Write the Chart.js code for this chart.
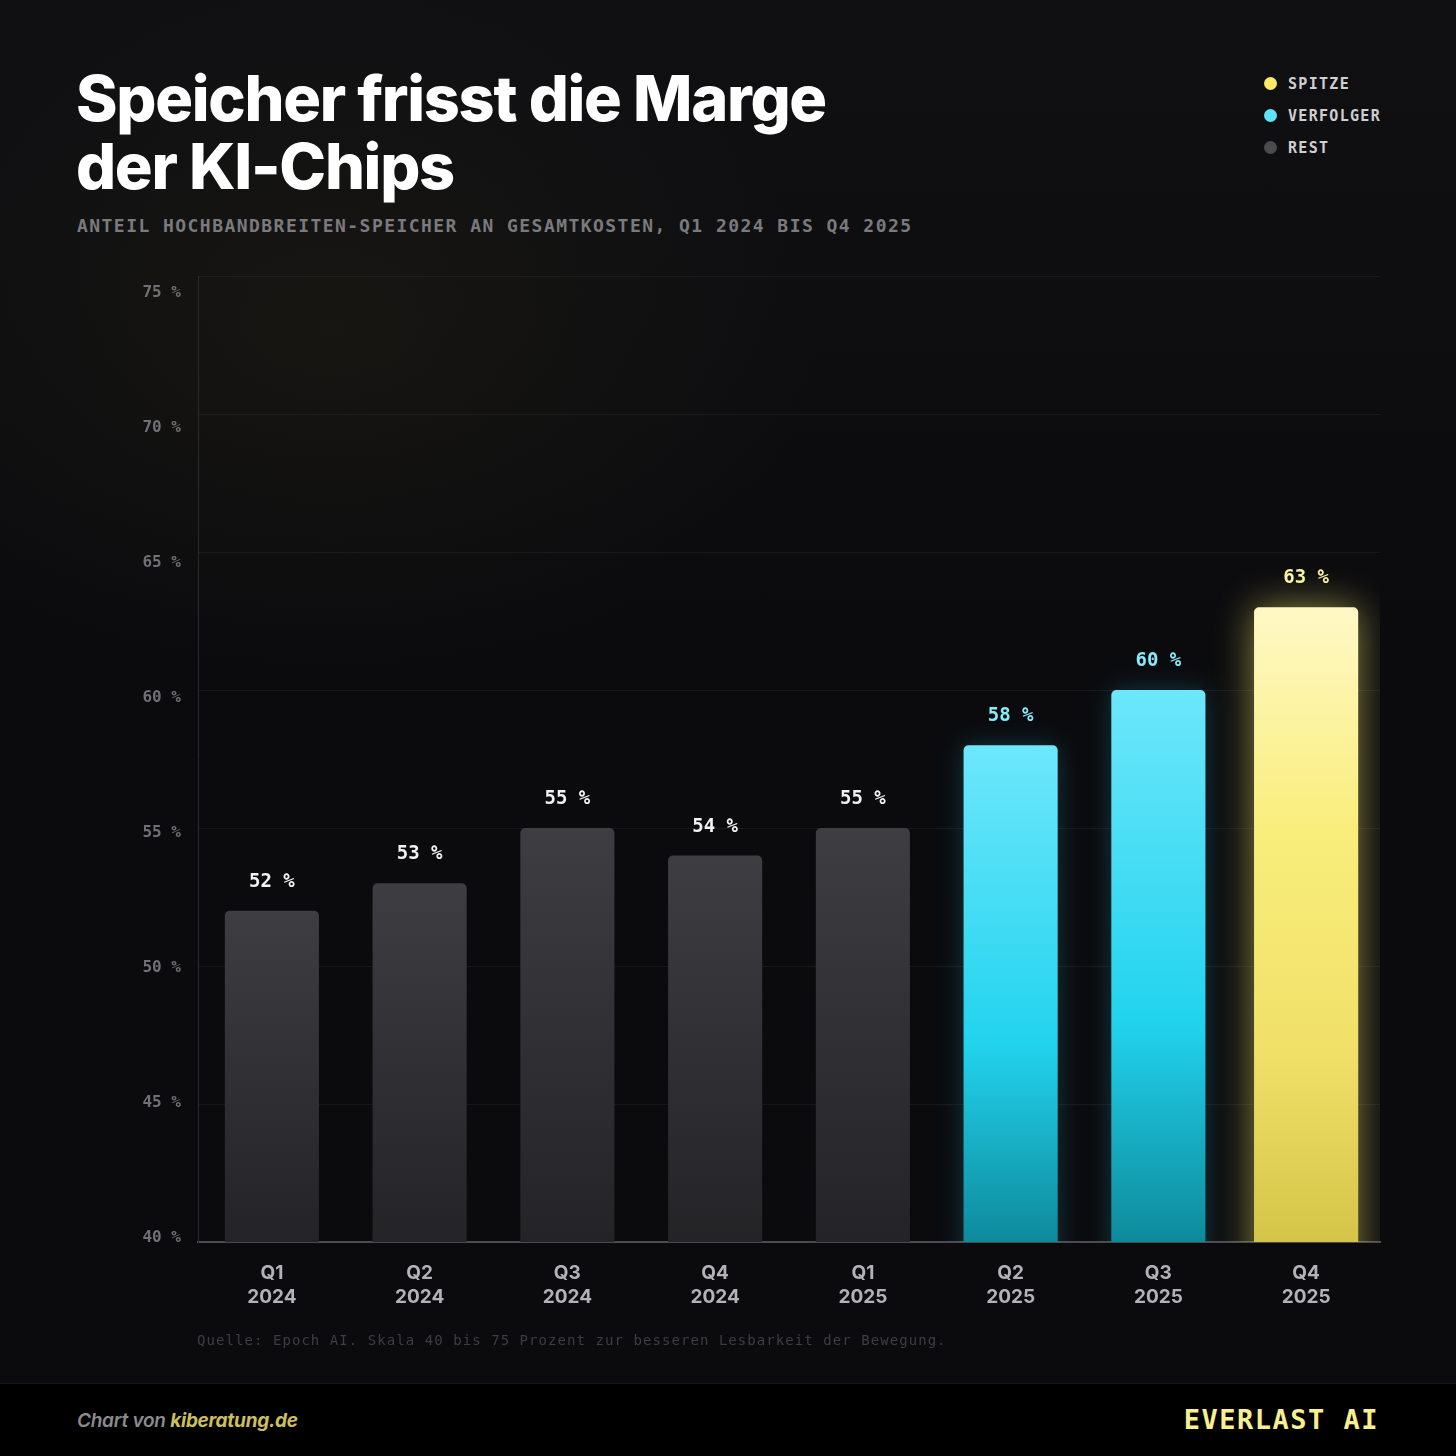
<!DOCTYPE html>
<html lang="de">
<head>
<meta charset="utf-8">
<title>Speicher frisst die Marge der KI-Chips</title>
<script src="https://cdn.jsdelivr.net/npm/chart.js@4.4.1/dist/chart.umd.min.js"></script>
<style>
  html, body { margin: 0; padding: 0; }
  body {
    width: 1456px; height: 1456px; position: relative; overflow: hidden;
    background:
      radial-gradient(ellipse 700px 500px at 330px 330px, rgba(70, 64, 25, 0.16), rgba(0,0,0,0) 70%),
      linear-gradient(180deg, #101013 0%, #0b0b0e 45%, #0b0b0e 100%);
    font-family: Inter, "Noto Sans", sans-serif;
  }
  #chartBox { position: absolute; left: 0; top: 0; width: 1456px; height: 1383px; }
  h1 {
    position: absolute; left: 76px; top: 64px; margin: 0;
    font: 800 63px/68px Inter, sans-serif; letter-spacing: -1.3px; color: #ffffff;
  }
  .sub {
    position: absolute; left: 77px; top: 215px;
    font: 700 18px/22px "DejaVu Sans Mono", monospace; letter-spacing: 1.45px; color: #7a7a7f;
  }
  #legend { position: absolute; left: 1263px; top: 73px; }
  #legend div {
    height: 32px; display: flex; align-items: flex-start;
    font: 700 15px/22px "DejaVu Sans Mono", monospace; letter-spacing: 1.3px; color: #cfcfd2;
  }
  #legend span.dot { width: 13px; height: 13px; border-radius: 50%; margin: 4px 11px 0 1px; }
  .note {
    position: absolute; left: 197px; top: 1330px;
    font: 400 14px/20px "DejaVu Sans Mono", monospace; letter-spacing: 1.06px; color: #3d3d42;
  }
  footer {
    position: absolute; left: 0; top: 1383px; width: 1456px; height: 73px;
    background: #000; border-top: 1px solid #17171b;
  }
  .credit {
    position: absolute; left: 77px; top: 25px;
    font: italic 600 19px/24px Inter, sans-serif; letter-spacing: -0.25px; color: #8b8b8f;
  }
  .credit b { color: #cdbf5e; font-weight: 700; }
  .brand {
    position: absolute; right: 77px; top: 19px;
    font: 700 27px/34px "DejaVu Sans Mono", monospace; letter-spacing: 1.5px; color: #f8ef8e;
  }
</style>
</head>
<body>
<h1>Speicher frisst die Marge<br>der KI-Chips</h1>
<div class="sub">ANTEIL HOCHBANDBREITEN-SPEICHER AN GESAMTKOSTEN, Q1 2024 BIS Q4 2025</div>
<div id="legend"></div>
<div id="chartBox"><canvas id="chart"></canvas></div>
<div class="note">Quelle: Epoch AI. Skala 40 bis 75 Prozent zur besseren Lesbarkeit der Bewegung.</div>
<footer>
  <div class="credit">Chart von <b>kiberatung.de</b></div>
  <div class="brand">EVERLAST AI</div>
</footer>
<script>
// data
var quarters = ['Q1 2024', 'Q2 2024', 'Q3 2024', 'Q4 2024', 'Q1 2025', 'Q2 2025', 'Q3 2025', 'Q4 2025'];
var shares = [52, 53, 55, 54, 55, 58, 60, 63];
var groupOf = ['rest', 'rest', 'rest', 'rest', 'rest', 'verfolger', 'verfolger', 'spitze'];
var groupKeys = ['spitze', 'verfolger', 'rest'];
var groupLabels = ['SPITZE', 'VERFOLGER', 'REST'];
var yMin = 40, yMax = 75, yStep = 5;

// look
var dotColors = { spitze: '#fbe96a', verfolger: '#5fe3f7', rest: '#4a4a4f' };
var labelColors = { spitze: '#fdf1a2', verfolger: '#86ecfb', rest: '#f2f2f4' };
var gradStops = {
	rest: [[0, '#3d3d42'], [1, '#242427']],
	verfolger: [[0, '#6de7fb'], [0.6, '#22d3ee'], [1, '#0e8a9b']],
	spitze: [[0, '#fff8c6'], [0.35, '#f9ee7c'], [0.7, '#f0e068'], [1, '#d4c548']]
};
var glow = { spitze: ['rgba(250, 236, 110, 0.55)', 38], verfolger: ['rgba(34, 211, 238, 0.22)', 26], rest: null };
var barWidth = { spitze: 0.705, verfolger: 0.637, rest: 0.637 };

// legend
var legendEl = document.getElementById('legend');
groupKeys.forEach(function (k, i) {
	var row = document.createElement('div');
	row.innerHTML = '<span class="dot" style="background:' + dotColors[k] + '"></span>' + groupLabels[i];
	legendEl.appendChild(row);
});

function barGradient(key) {
	return function (c) {
		var chart = c.chart;
		if (!chart.chartArea || c.raw == null) return gradStops[key][0][1];
		var top = chart.scales.y.getPixelForValue(c.raw);
		var bottom = chart.chartArea.bottom;
		var g = chart.ctx.createLinearGradient(0, top, 0, bottom);
		gradStops[key].forEach(function (s) { g.addColorStop(s[0], s[1]); });
		return g;
	};
}

var datasets = groupKeys.map(function (k, i) {
	return {
		label: groupLabels[i],
		groupKey: k,
		data: shares.map(function (v, j) { return groupOf[j] === k ? v : null; }),
		backgroundColor: barGradient(k),
		borderRadius: 5,
		borderSkipped: 'start',
		barPercentage: barWidth[k],
		categoryPercentage: 1,
		grouped: false
	};
});

var glowPlugin = {
	id: 'glow',
	beforeDatasetDraw: function (chart, args) {
		var g = glow[chart.data.datasets[args.index].groupKey];
		chart.ctx.save();
		if (g) {
			chart.ctx.shadowColor = g[0];
			chart.ctx.shadowBlur = g[1];
		}
	},
	afterDatasetDraw: function (chart) {
		chart.ctx.restore();
	}
};

var valueLabels = {
	id: 'valueLabels',
	afterDatasetsDraw: function (chart) {
		var ctx = chart.ctx;
		ctx.save();
		ctx.font = '700 19px "DejaVu Sans Mono", monospace';
		ctx.textAlign = 'center';
		ctx.textBaseline = 'middle';
		chart.data.datasets.forEach(function (ds, i) {
			var meta = chart.getDatasetMeta(i);
			meta.data.forEach(function (bar, j) {
				var v = ds.data[j];
				if (v == null) return;
				ctx.fillStyle = labelColors[ds.groupKey];
				ctx.fillText(v + ' %', bar.x, bar.y - 29);
			});
		});
		ctx.restore();
	}
};

var ctx = document.getElementById('chart').getContext('2d');
var chart = new Chart(ctx, {
	type: 'bar',
	data: { labels: quarters, datasets: datasets },
	plugins: [glowPlugin, valueLabels],
	options: {
		responsive: true,
		maintainAspectRatio: false,
		animation: false,
		layout: { padding: { top: 276, right: 76, bottom: 0, left: 0 } },
		plugins: { legend: { display: false }, tooltip: { enabled: false } },
		scales: {
			x: {
				grid: { display: false },
				border: { color: '#4b4b51', width: 2 },
				ticks: {
					color: '#b3b3b7',
					font: { family: 'Inter', weight: '700', size: 19, lineHeight: 1.27 },
					padding: 11,
					maxRotation: 0,
					callback: function (val, idx) { return quarters[idx].split(' '); }
				},
				afterFit: function (s) { s.height = 141; }
			},
			y: {
				min: yMin,
				max: yMax,
				weight: 2,
				grid: { color: 'rgba(255,255,255,0.055)', drawTicks: false },
				border: { display: false },
				ticks: { display: false, stepSize: yStep },
				afterFit: function (s) { s.width = 0; }
			},
			// label axis: same ticks, shifted slightly like the original labels
			yLabels: {
				position: 'left',
				min: 39.83,
				max: 75.61,
				weight: 1,
				grid: { display: false, drawTicks: false },
				border: { color: '#2a2a2f', width: 1 },
				ticks: {
					stepSize: yStep,
					includeBounds: false,
					color: '#707075',
					padding: 17,
					font: { family: 'DejaVu Sans Mono', weight: '700', size: 16 },
					callback: function (v) { return v + ' %'; }
				},
				afterFit: function (s) { s.width = 198; }
			}
		}
	}
});
</script>
</body>
</html>
